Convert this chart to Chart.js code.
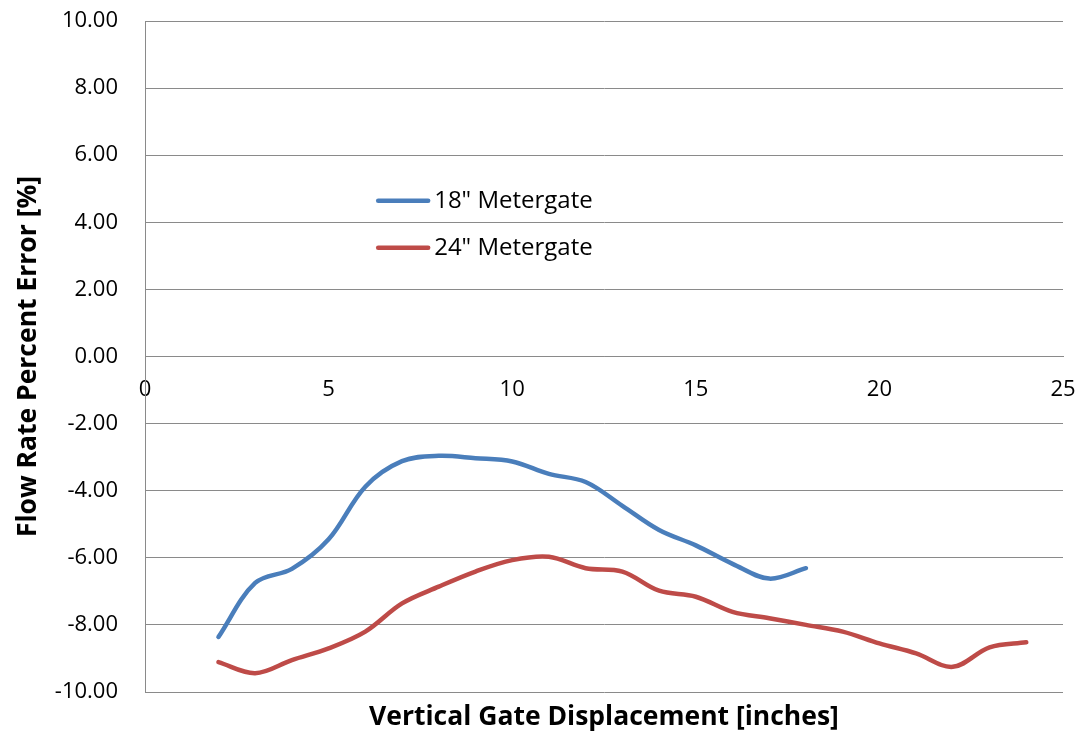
<!DOCTYPE html>
<html>
<head>
<meta charset="utf-8">
<script src="https://cdn.jsdelivr.net/npm/chart.js@4.4.1/dist/chart.umd.min.js"></script>
<style>
  html, body { margin: 0; padding: 0; background: #ffffff; }
  #wrap { width: 1079px; height: 732px; }
</style>
</head>
<body>
<div id="wrap"><canvas id="c" width="1079" height="732"></canvas></div>
<script>
// Gate displacement (inches) and flow-rate percent error for each metergate size
const gate18 = [2, 3, 4, 5, 6, 7, 8, 9, 10, 11, 12, 13, 14, 15, 16, 17, 18];
const error18 = [-8.36, -6.75, -6.33, -5.45, -3.88, -3.12, -2.96, -3.03, -3.13, -3.50, -3.74, -4.45, -5.17, -5.63, -6.18, -6.62, -6.31];

const gate24 = [2, 3, 4, 5, 6, 7, 8, 9, 10, 11, 12, 13, 14, 15, 16, 17, 18, 19, 20, 21, 22, 23, 24];
const error24 = [-9.11, -9.44, -9.05, -8.70, -8.20, -7.36, -6.86, -6.41, -6.07, -5.97, -6.31, -6.41, -6.98, -7.16, -7.61, -7.80, -8.00, -8.20, -8.55, -8.85, -9.25, -8.67, -8.52];

const seriesNames = ['18" Metergate', '24" Metergate'];
const seriesColors = ['#4A7EBB', '#BE4B48'];

const xAxisTitle = 'Vertical Gate Displacement [inches]';
const yAxisTitle = 'Flow Rate Percent Error [%]';

const FONT = '"Open Sans", "Noto Sans", sans-serif';
const GRID = '#8a8a8a';

const toPoints = (xs, ys) => xs.map((x, i) => ({ x: x, y: ys[i] }));

// Legend drawn inside the plot area, line sample followed by the series name
const innerLegend = {
  id: 'innerLegend',
  afterDatasetsDraw(chart) {
    const { ctx, chartArea } = chart;
    const x0 = chartArea.left + 0.254 * (chartArea.right - chartArea.left);
    const rows = [0.268, 0.338].map(f => chartArea.top + f * (chartArea.bottom - chartArea.top));
    ctx.save();
    chart.data.datasets.forEach((ds, i) => {
      const y = rows[i];
      ctx.strokeStyle = ds.borderColor;
      ctx.lineWidth = 4.5;
      ctx.lineCap = 'round';
      ctx.beginPath();
      ctx.moveTo(x0, y);
      ctx.lineTo(x0 + 50, y);
      ctx.stroke();
      ctx.fillStyle = '#000000';
      ctx.font = '24px ' + FONT;
      ctx.textAlign = 'left';
      ctx.textBaseline = 'middle';
      ctx.fillText(ds.label, x0 + 56, y);
    });
    ctx.restore();
  }
};

// Horizontal axis title, centred under the plot area
const bottomTitle = {
  id: 'bottomTitle',
  afterDraw(chart) {
    const { ctx, chartArea } = chart;
    ctx.save();
    ctx.fillStyle = '#000000';
    ctx.font = 'bold 26.5px ' + FONT;
    ctx.textAlign = 'center';
    ctx.textBaseline = 'alphabetic';
    ctx.fillText(xAxisTitle, (chartArea.left + chartArea.right) / 2, chartArea.bottom + 33);
    ctx.restore();
  }
};

new Chart(document.getElementById('c'), {
  type: 'line',
  data: {
    datasets: [
      {
        label: seriesNames[0],
        data: toPoints(gate18, error18),
        borderColor: seriesColors[0],
        backgroundColor: seriesColors[0],
        borderWidth: 4.5,
        borderCapStyle: 'round',
        pointRadius: 0,
        tension: 0.35,
        fill: false
      },
      {
        label: seriesNames[1],
        data: toPoints(gate24, error24),
        borderColor: seriesColors[1],
        backgroundColor: seriesColors[1],
        borderWidth: 4.5,
        borderCapStyle: 'round',
        pointRadius: 0,
        tension: 0.35,
        fill: false
      }
    ]
  },
  options: {
    responsive: false,
    animation: false,
    devicePixelRatio: 1,
    layout: { padding: { left: 0, right: 16, top: 21, bottom: 40 } },
    plugins: {
      legend: { display: false },
      tooltip: { enabled: false },
      title: { display: false }
    },
    scales: {
      x: {
        type: 'linear',
        position: { y: 0 },
        min: 0,
        max: 25,
        // the axis sits on the zero line, so it takes no room at the edges
        afterFit(scale) {
          scale.height = 0;
          scale.paddingLeft = 0;
          scale.paddingRight = 0;
          scale.paddingTop = 0;
          scale.paddingBottom = 0;
        },
        ticks: {
          stepSize: 5,
          color: '#000000',
          padding: 20,
          maxRotation: 0,
          font: { family: FONT, size: 22 }
        },
        grid: { display: false, drawTicks: false },
        border: { display: true, color: GRID, width: 1 }
      },
      y: {
        type: 'linear',
        min: -10,
        max: 10,
        afterFit(scale) {
          scale.width = 145;
          scale.paddingTop = 0;
          scale.paddingBottom = 0;
        },
        ticks: {
          stepSize: 2,
          color: '#000000',
          padding: 27,
          font: { family: FONT, size: 22 },
          callback: v => Number(v).toFixed(2)
        },
        grid: { color: GRID, lineWidth: 1, drawTicks: false },
        border: { display: true, color: GRID, width: 1 },
        title: {
          display: true,
          text: yAxisTitle,
          color: '#000000',
          font: { family: FONT, size: 26.5, weight: 'bold' },
          padding: { top: 13, bottom: 0 }
        }
      }
    }
  },
  plugins: [innerLegend, bottomTitle]
});
</script>
</body>
</html>
